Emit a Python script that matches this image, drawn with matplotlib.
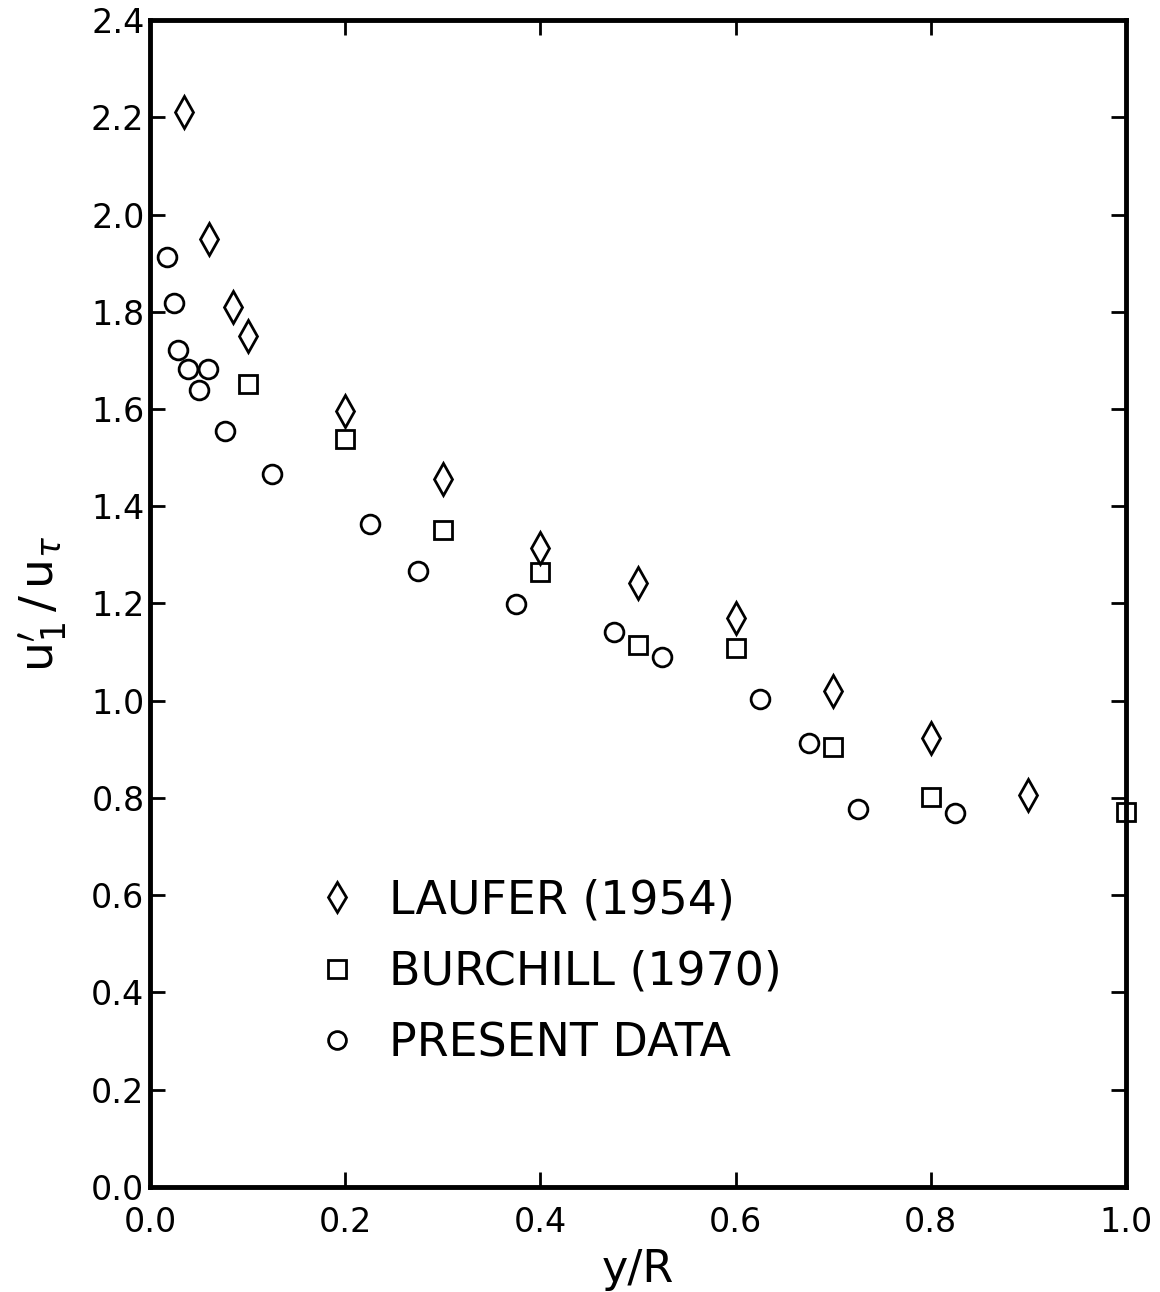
import numpy as np
import matplotlib
matplotlib.use("Agg")
import matplotlib.pyplot as plt

# data
laufer_x = [0.035, 0.06, 0.085, 0.1, 0.2, 0.3, 0.4, 0.5, 0.6, 0.7, 0.8, 0.9]
laufer_y = [2.21, 1.95, 1.81, 1.75, 1.595, 1.457, 1.314, 1.242, 1.171, 1.021, 0.923, 0.806]

burchill_x = [0.1, 0.2, 0.3, 0.4, 0.5, 0.6, 0.7, 0.8, 1.0]
burchill_y = [1.652, 1.539, 1.352, 1.264, 1.115, 1.109, 0.904, 0.802, 0.772]

present_x = [0.017, 0.025, 0.029, 0.039, 0.059, 0.05, 0.077, 0.125, 0.225,
             0.275, 0.375, 0.475, 0.525, 0.625, 0.675, 0.725, 0.825]
present_y = [1.912, 1.819, 1.722, 1.683, 1.683, 1.64, 1.555, 1.466, 1.364,
             1.266, 1.199, 1.142, 1.09, 1.004, 0.913, 0.778, 0.77]

xticks = np.arange(0, 1.01, 0.2)
yticks = np.arange(0, 2.41, 0.2)

plt.rcParams['font.family'] = ['DejaVu Sans']
plt.rcParams['mathtext.fontset'] = 'dejavusans'

fig = plt.figure(figsize=(11.6, 12.92), dpi=100)
ax = fig.add_axes([0.1293, 0.0813, 0.8414, 0.9032])

mk = dict(linestyle='none', markerfacecolor='none', markeredgecolor='black',
          markeredgewidth=2.0, clip_on=False)
ax.plot(laufer_x, laufer_y, marker='d', markersize=16, label='LAUFER (1954)', **mk)
ax.plot(burchill_x, burchill_y, marker='s', markersize=13.5, label='BURCHILL (1970)', **mk)
ax.plot(present_x, present_y, marker='o', markersize=13.5, label='PRESENT DATA', **mk)

ax.set_xlim(0, 1.0)
ax.set_ylim(0, 2.4)
ax.set_xticks(xticks)
ax.set_yticks(yticks)
ax.set_xticklabels(['%.1f' % t for t in xticks])
ax.set_yticklabels(['%.1f' % t for t in yticks])
ax.tick_params(direction='in', top=True, right=True, length=11, width=2,
               labelsize=24)
ax.tick_params(axis='x', pad=14)
ax.tick_params(axis='y', pad=4)
for s in ax.spines.values():
    s.set_linewidth(3.5)

ax.set_xlabel('y/R', fontsize=32, labelpad=6)
ax.set_ylabel(r"$\mathrm{u}_{1}^{\prime}\,/\,\mathrm{u}_{\tau}$", fontsize=34, labelpad=16)

leg = ax.legend(loc='center left', bbox_to_anchor=(0.126, 0.184), frameon=False,
                fontsize=33, handletextpad=0.63, labelspacing=0.58,
                handlelength=1.0, markerscale=0.95)

fig.savefig('out.png', dpi=100)
